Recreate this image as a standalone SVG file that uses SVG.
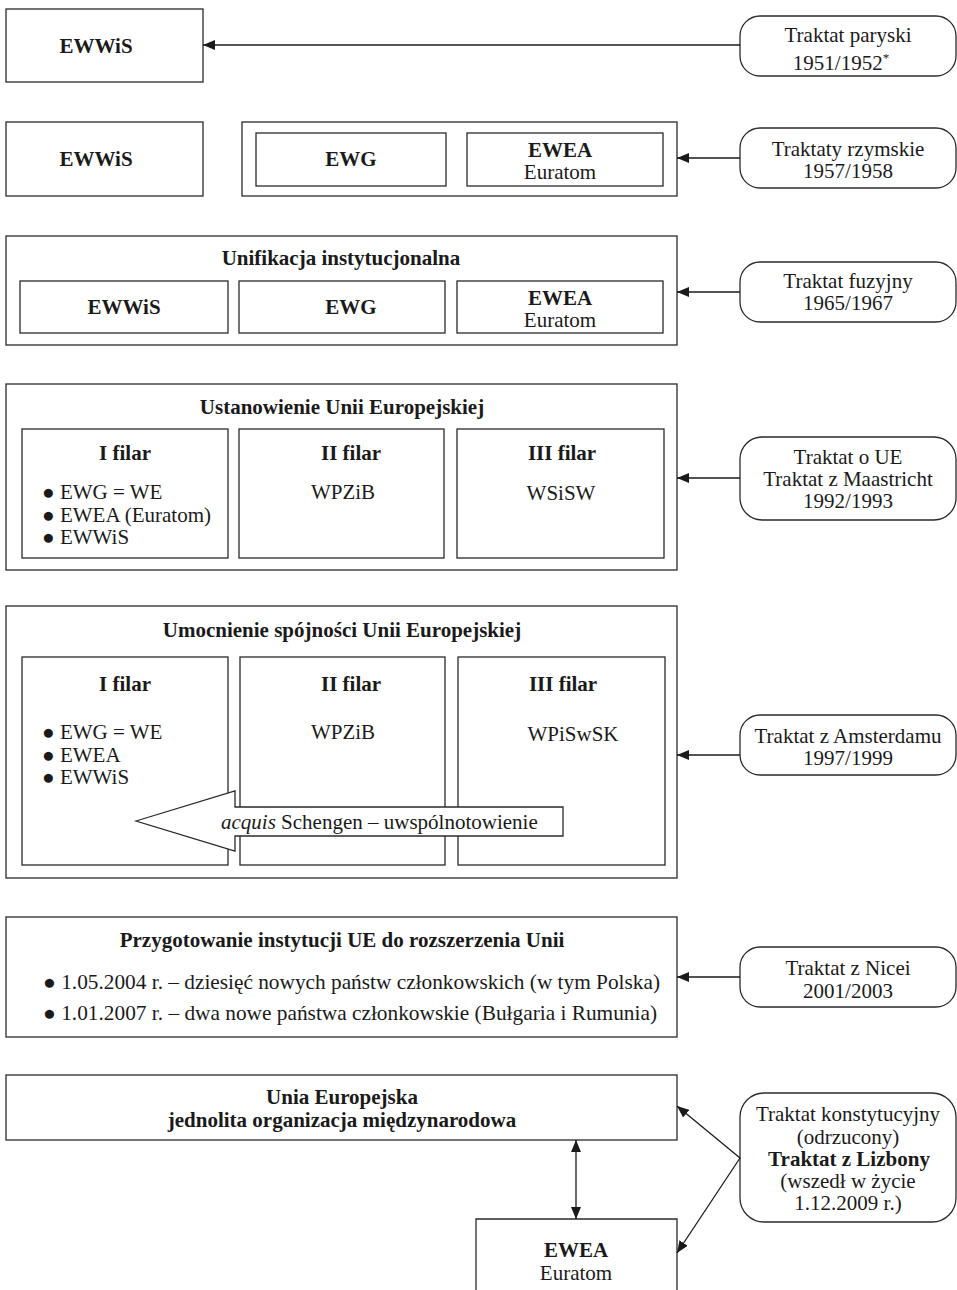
<svg xmlns="http://www.w3.org/2000/svg" width="957" height="1290" viewBox="0 0 957 1290">
<defs>
<marker id="ah" viewBox="0 0 12 10" refX="12" refY="5" markerWidth="12" markerHeight="10" markerUnits="userSpaceOnUse" orient="auto-start-reverse">
<path d="M0,0 L12,5 L0,10 Z" fill="#1a1a1a"/>
</marker>
<style>
.b{fill:#fff;stroke:#2a2a2a;stroke-width:1.3}
.t{font-family:"Liberation Serif","Times New Roman",serif;font-size:21px;fill:#1a1a1a}
.c{text-anchor:middle}
.w{font-weight:bold}
.ln{stroke:#1a1a1a;stroke-width:1.3;fill:none}
</style>
</defs>
<rect width="957" height="1290" fill="#fff"/>

<!-- Row 1 -->
<g id="ewwis1">
<rect class="b" x="6" y="9" width="197" height="73"/>
<text class="t c w" x="96" y="53">EWWiS</text>
</g>
<g id="paryski">
<rect class="b" x="740" y="16" width="216" height="60" rx="20"/>
<text class="t c" x="848" y="42">Traktat paryski</text>
<text class="t c" x="841" y="70">1951/1952<tspan font-size="13" dy="-8">*</tspan></text>
</g>

<!-- Row 2 -->
<g id="ewwis2">
<rect class="b" x="6" y="122" width="197" height="74"/>
<text class="t c w" x="96" y="166">EWWiS</text>
</g>
<g id="rzym-group">
<rect class="b" x="242" y="122" width="435" height="74"/>
<g id="ewg2">
<rect class="b" x="256" y="133" width="190" height="53"/>
<text class="t c w" x="351" y="166">EWG</text>
</g>
<g id="ewea2">
<rect class="b" x="467" y="133" width="196" height="53"/>
<text class="t c w" x="560" y="157">EWEA</text>
<text class="t c" x="560" y="179">Euratom</text>
</g>
</g>
<g id="rzymskie">
<rect class="b" x="740" y="128" width="216" height="60" rx="20"/>
<text class="t c" x="848" y="156">Traktaty rzymskie</text>
<text class="t c" x="848" y="178">1957/1958</text>
</g>

<!-- Row 3 -->
<g id="unifikacja">
<rect class="b" x="6" y="236" width="671" height="109"/>
<text class="t c w" x="341" y="265">Unifikacja instytucjonalna</text>
<g id="ewwis3">
<rect class="b" x="20" y="281" width="208" height="52"/>
<text class="t c w" x="124" y="314">EWWiS</text>
</g>
<g id="ewg3">
<rect class="b" x="239" y="281" width="206" height="52"/>
<text class="t c w" x="351" y="314">EWG</text>
</g>
<g id="ewea3">
<rect class="b" x="457" y="281" width="206" height="52"/>
<text class="t c w" x="560" y="305">EWEA</text>
<text class="t c" x="560" y="327">Euratom</text>
</g>
</g>
<g id="fuzyjny">
<rect class="b" x="740" y="262" width="216" height="60" rx="20"/>
<text class="t c" x="848" y="288">Traktat fuzyjny</text>
<text class="t c" x="848" y="310">1965/1967</text>
</g>

<!-- Row 4 -->
<g id="ustanowienie">
<rect class="b" x="6" y="384" width="671" height="186"/>
<text class="t c w" x="342" y="414">Ustanowienie Unii Europejskiej</text>
<g id="filar1a">
<rect class="b" x="22" y="429" width="206" height="129"/>
<text class="t c w" x="125" y="460">I filar</text>
<text class="t" x="42" y="499">● EWG = WE</text>
<text class="t" x="42" y="522">● EWEA (Euratom)</text>
<text class="t" x="42" y="544">● EWWiS</text>
</g>
<g id="filar2a">
<rect class="b" x="239" y="429" width="205" height="129"/>
<text class="t c w" x="351" y="460">II filar</text>
<text class="t c" x="343" y="499">WPZiB</text>
</g>
<g id="filar3a">
<rect class="b" x="457" y="429" width="207" height="129"/>
<text class="t c w" x="562" y="460">III filar</text>
<text class="t c" x="561" y="500">WSiSW</text>
</g>
</g>
<g id="maastricht">
<rect class="b" x="740" y="437" width="216" height="83" rx="22"/>
<text class="t c" x="848" y="464">Traktat o UE</text>
<text class="t c" x="848" y="486">Traktat z Maastricht</text>
<text class="t c" x="848" y="508">1992/1993</text>
</g>

<!-- Row 5 -->
<g id="umocnienie">
<rect class="b" x="6" y="606" width="671" height="272"/>
<text class="t c w" x="342" y="637">Umocnienie spójności Unii Europejskiej</text>
<g id="filar1b">
<rect class="b" x="22" y="657" width="206" height="208"/>
<text class="t c w" x="125" y="691">I filar</text>
<text class="t" x="42" y="739">● EWG = WE</text>
<text class="t" x="42" y="762">● EWEA</text>
<text class="t" x="42" y="784">● EWWiS</text>
</g>
<g id="filar2b">
<rect class="b" x="240" y="657" width="205" height="208"/>
<text class="t c w" x="351" y="691">II filar</text>
<text class="t c" x="343" y="739">WPZiB</text>
</g>
<g id="filar3b">
<rect class="b" x="458" y="657" width="207" height="208"/>
<text class="t c w" x="563" y="691">III filar</text>
<text class="t c" x="573" y="741">WPiSwSK</text>
</g>
<g id="schengen">
<path class="b" d="M136,821 L235,791 L235,807 L563,807 L563,836 L235,836 L235,851 Z"/>
<text class="t" x="221" y="829"><tspan font-style="italic">acquis</tspan> Schengen – uwspólnotowienie</text>
</g>
</g>
<g id="amsterdam">
<rect class="b" x="740" y="715" width="216" height="60" rx="20"/>
<text class="t c" x="848" y="743">Traktat z Amsterdamu</text>
<text class="t c" x="848" y="765">1997/1999</text>
</g>

<!-- Row 6 -->
<g id="przygotowanie">
<rect class="b" x="6" y="917" width="671" height="120"/>
<text class="t c w" x="342" y="947">Przygotowanie instytucji UE do rozszerzenia Unii</text>
<text class="t" x="43" y="989" textLength="617" lengthAdjust="spacingAndGlyphs">● 1.05.2004 r. – dziesięć nowych państw członkowskich (w tym  Polska)</text>
<text class="t" x="43" y="1020" textLength="614" lengthAdjust="spacingAndGlyphs">● 1.01.2007 r. – dwa nowe państwa członkowskie (Bułgaria i Rumunia)</text>
</g>
<g id="nicea">
<rect class="b" x="740" y="947" width="216" height="60" rx="20"/>
<text class="t c" x="848" y="975">Traktat z Nicei</text>
<text class="t c" x="848" y="998">2001/2003</text>
</g>

<!-- Row 7 -->
<g id="ue">
<rect class="b" x="6" y="1075" width="671" height="65"/>
<text class="t c w" x="342" y="1104">Unia Europejska</text>
<text class="t c w" x="342" y="1127">jednolita organizacja międzynarodowa</text>
</g>
<g id="ewea7">
<path class="b" d="M476,1292 L476,1219 L677,1219 L677,1292"/>
<text class="t c w" x="576" y="1257">EWEA</text>
<text class="t c" x="576" y="1280">Euratom</text>
</g>
<g id="lizbona">
<rect class="b" x="740" y="1093" width="216" height="129" rx="24"/>
<text class="t c" x="848" y="1121">Traktat konstytucyjny</text>
<text class="t c" x="848" y="1144">(odrzucony)</text>
<text class="t c w" x="849" y="1166">Traktat z Lizbony</text>
<text class="t c" x="848" y="1188">(wszedł w życie</text>
<text class="t c" x="848" y="1210">1.12.2009 r.)</text>
</g>

<!-- Connectors -->
<g id="connectors">
<line class="ln" x1="740" y1="45" x2="203" y2="45" marker-end="url(#ah)"/>
<line class="ln" x1="740" y1="158" x2="677" y2="158" marker-end="url(#ah)"/>
<line class="ln" x1="740" y1="292" x2="677" y2="292" marker-end="url(#ah)"/>
<line class="ln" x1="740" y1="478" x2="677" y2="478" marker-end="url(#ah)"/>
<line class="ln" x1="740" y1="755" x2="677" y2="755" marker-end="url(#ah)"/>
<line class="ln" x1="740" y1="977" x2="677" y2="977" marker-end="url(#ah)"/>
<line class="ln" x1="576" y1="1140" x2="576" y2="1219" marker-start="url(#ah)" marker-end="url(#ah)"/>
<line class="ln" x1="740" y1="1158" x2="677" y2="1106" marker-end="url(#ah)"/>
<line class="ln" x1="740" y1="1158" x2="677" y2="1253" marker-end="url(#ah)"/>
</g>
</svg>
